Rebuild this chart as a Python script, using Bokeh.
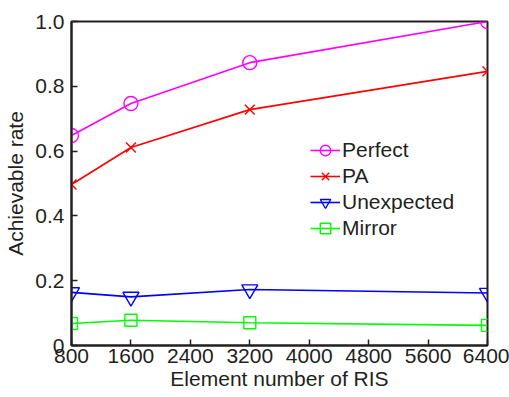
from bokeh.plotting import figure
from bokeh.models import FixedTicker, Legend, LegendItem
from bokeh.embed import file_html
from bokeh.resources import INLINE

elements = [800, 1600, 3200, 6400]
perfect = [0.648, 0.747, 0.873, 1.0]
pa = [0.497, 0.611, 0.728, 0.846]
unexpected = [0.164, 0.150, 0.173, 0.162]
mirror = [0.068, 0.078, 0.070, 0.062]

x_ticks = [800, 1600, 2400, 3200, 4000, 4800, 5600, 6400]
y_ticks = [0, 0.2, 0.4, 0.6, 0.8, 1.0]
y_tick_labels = ["0", "0.2", "0.4", "0.6", "0.8", "1.0"]

FONT = "Liberation Sans"
AX = "#231f20"

p = figure(width=509, height=397, output_backend="svg", toolbar_location=None,
           x_range=(800, 6400), y_range=(0, 1.0),
           min_border_left=71, min_border_right=22, min_border_top=21, min_border_bottom=52)
p.grid.visible = False
p.background_fill_color = "white"
p.outline_line_color = AX
p.outline_line_width = 2

for ax in (p.xaxis[0], p.yaxis[0]):
    ax.axis_line_color = AX
    ax.axis_line_width = 2
    ax.major_tick_in = 6
    ax.major_tick_out = 0
    ax.minor_tick_line_color = None
    ax.major_tick_line_color = AX
    ax.major_tick_line_width = 1.5
    ax.major_label_text_font = FONT
    ax.major_label_text_font_size = "21px"
    ax.major_label_text_color = AX
    ax.axis_label_text_font = FONT
    ax.axis_label_text_font_size = "21px"
    ax.axis_label_text_font_style = "normal"
    ax.axis_label_text_color = AX

p.xaxis.ticker = FixedTicker(ticks=x_ticks)
p.yaxis.ticker = FixedTicker(ticks=y_ticks)
p.yaxis.major_label_overrides = {t: l for t, l in zip(y_ticks, y_tick_labels)}
p.xaxis.major_label_standoff = 3
p.xaxis.axis_label_standoff = 1
p.yaxis.major_label_standoff = 7
p.yaxis.axis_label_standoff = 5
p.xaxis.axis_label = "Element number of RIS"
p.yaxis.axis_label = "Achievable rate"

series = [
    ("Perfect", perfect, "#ff00ff", "circle", 14),
    ("PA", pa, "#ff0000", "x", 14),
    ("Unexpected", unexpected, "#0000ff", "inverted_triangle", 16),
    ("Mirror", mirror, "#00ff00", "square", 12),
]

items = []
for name, vals, col, marker, size in series:
    l = p.line(elements, vals, line_color=col, line_width=1.6)
    m = p.scatter(elements, vals, marker=marker, size=size, line_color=col,
                  fill_color=None, line_width=1.4)
    items.append(LegendItem(label=name, renderers=[l, m]))

legend = Legend(items=items, location=(239, 104))
legend.background_fill_alpha = 0
legend.border_line_color = None
legend.padding = 0
legend.margin = 0
legend.spacing = 0
legend.glyph_width = 30
legend.glyph_height = 26
legend.label_height = 26
legend.label_standoff = 2
legend.label_text_font = FONT
legend.label_text_font_size = "21px"
legend.label_text_color = AX
p.add_layout(legend, "center")

open("out.html", "w").write(file_html(p, INLINE))
